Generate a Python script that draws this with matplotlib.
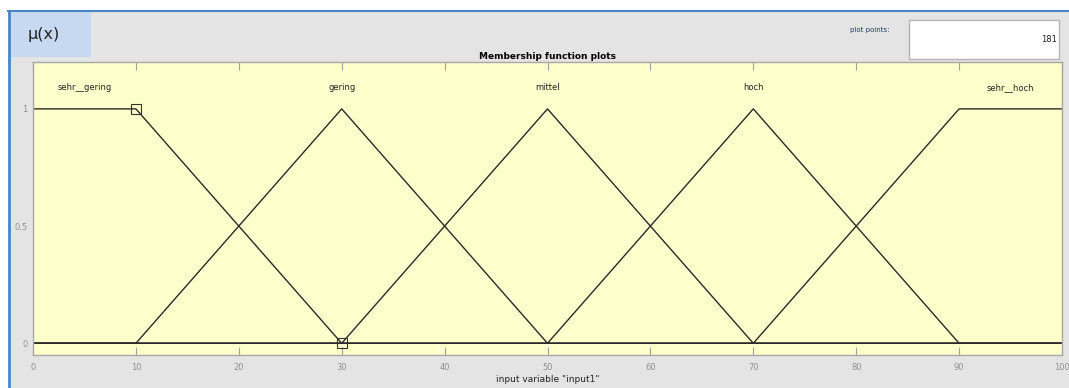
import numpy as np
import matplotlib.pyplot as plt
from matplotlib.patches import Rectangle
from matplotlib.lines import Line2D

# membership functions of input1 (universe 0..100)
mf_names = ['sehr__gering', 'gering', 'mittel', 'hoch', 'sehr__hoch']
mf_x = [[0, 10, 30, 100],
        [0, 10, 30, 50, 100],
        [0, 30, 50, 70, 100],
        [0, 50, 70, 90, 100],
        [0, 70, 90, 100]]
mf_y = [[1, 1, 0, 0],
        [0, 0, 1, 0, 0],
        [0, 0, 1, 0, 0],
        [0, 0, 1, 0, 0],
        [0, 0, 1, 1]]
label_x = [5, 30, 50, 70, 95]
selected_x = [10, 30]
selected_y = [1, 0]
plot_points = 181

W, H = 1069, 388
fig = plt.figure(figsize=(W / 100, H / 100), dpi=100)
fig.patch.set_facecolor('white')

def px(x, y, w, h):
    return [x / W, 1 - (y + h) / H, w / W, h / H]

# window background and frame
bg = fig.add_axes([0, 0, 1, 1])
bg.set_xlim(0, W)
bg.set_ylim(H, 0)
bg.axis('off')
bg.add_patch(Rectangle((8, 10), W - 8, H - 10, facecolor='#e4e4e4', edgecolor='none'))
bg.add_line(Line2D([8, W], [10.5, 10.5], color='#4a86c8', lw=1.5))
bg.add_line(Line2D([8.5, 8.5], [11, H], color='#4a86c8', lw=2))
bg.add_patch(Rectangle((9, 11), 82, 46, facecolor='#c6d9f1', edgecolor='none'))
bg.text(28, 34, 'μ(x)', fontsize=11.5, color='#222222', va='center', ha='left')
bg.add_patch(Rectangle((909, 20), 150, 39, facecolor='white', edgecolor='#b4b4b4', lw=1))
bg.text(890, 30, 'plot points:', fontsize=5, color='#1f3a66', ha='right', va='center')
bg.text(1057, 40, str(plot_points), fontsize=6, color='#222222', ha='right', va='center')

ax = fig.add_axes(px(33, 62, 1029, 293))
ax.set_facecolor('#ffffcc')
for i in range(len(mf_names)):
    ax.plot(mf_x[i], mf_y[i], color='#2a2a2a', lw=1.0)
    ax.text(label_x[i], 1.09, mf_names[i], fontsize=6, ha='center', va='center', color='#222222')
ax.plot(selected_x, selected_y, ls='none', marker='s', ms=7, mfc='none', mec='#333333', mew=0.8)

ax.set_xlim(0, 100)
ax.set_ylim(-0.05, 1.2)
ax.set_xticks(np.arange(0, 101, 10))
ax.set_yticks([0, 0.5, 1])
ax.set_yticklabels(['0', '0.5', '1'])
ax.tick_params(axis='x', direction='in', top=True, length=6, color='#a0a0a0',
               labelsize=6, labelcolor='#909090', pad=6)
ax.tick_params(axis='y', length=0, labelsize=6, labelcolor='#909090', pad=4)
for s in ax.spines.values():
    s.set_color('#a8a8a8')
    s.set_linewidth(1)
ax.set_title('Membership function plots', fontsize=6.5, fontweight='bold', pad=2)
ax.set_xlabel('input variable "input1"', fontsize=6.5, labelpad=2, color='#222222')

fig.savefig('out.png', dpi=100)
